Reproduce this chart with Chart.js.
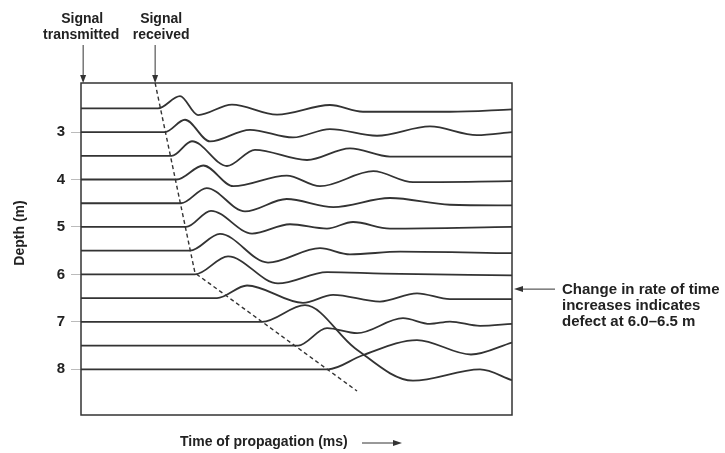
<!DOCTYPE html>
<html><head><meta charset="utf-8">
<script src="https://cdn.jsdelivr.net/npm/chart.js@4.4.1/dist/chart.umd.min.js"></script>
<style>html,body{margin:0;padding:0;background:#fff;} #wrap{width:725px;height:453px;position:relative;}</style>
</head><body><div id="wrap"><canvas id="c"></canvas></div>
<script>
// ---- data ----
const depthTicks = [3, 4, 5, 6, 7, 8];               // labelled depths (m)
const traceDepths = [2.5, 3, 3.5, 4, 4.5, 5, 5.5, 6, 6.5, 7, 7.5, 8];
// time (arbitrary ms units, 0..10 across the box) of each traced point
const traceTimes = [
  [0, 1.787, 2.297, 2.715, 3.503, 4.548, 5.777, 6.543, 8.561, 10],
  [0, 1.949, 2.413, 2.993, 3.921, 4.919, 5.777, 6.868, 8.097, 9.188, 10],
  [0, 2.104, 2.575, 3.387, 4.037, 5.244, 6.241, 7.169, 10],
  [0, 2.220, 2.838, 3.534, 4.773, 5.545, 6.782, 7.703, 10],
  [0, 2.320, 2.916, 3.805, 4.773, 5.854, 7.169, 8.561, 10],
  [0, 2.436, 3.016, 3.968, 4.849, 5.707, 6.311, 7.169, 10],
  [0, 2.529, 3.225, 4.339, 5.545, 6.241, 7.408, 10],
  [0, 2.645, 3.411, 4.571, 5.708, 7.007, 10],
  [0, 3.155, 3.852, 5.151, 5.847, 6.937, 7.796, 8.561, 10],
  [0, 4.200, 5.197, 6.357, 7.703, 9.258, 10],
  [0, 5.035, 5.708, 6.404, 7.471, 8.097, 8.561, 9.258, 10],
  [0, 5.731, 6.520, 7.796, 9.049, 10]
];
// signal amplitude (upward displacement, in depth units) at those times
const traceAmps = [
  [0, 0, 0.259, -0.141, 0.080, -0.131, 0.070, -0.072, -0.072, -0.021],
  [0, 0, 0.259, -0.198, 0.048, -0.114, 0.063, -0.078, 0.118, -0.063, 0],
  [0, 0, 0.306, -0.215, 0.126, -0.089, 0.158, -0.017, -0.017],
  [0, 0, 0.295, -0.141, 0.084, -0.141, 0.175, -0.057, -0.036],
  [0, 0, 0.320, -0.173, 0.089, -0.080, 0.110, -0.032, -0.046],
  [0, 0, 0.341, -0.139, 0.057, -0.034, 0.105, -0.034, 0],
  [0, 0, 0.354, -0.251, 0.053, -0.078, -0.019, -0.053],
  [0, 0, 0.379, -0.190, 0.048, 0.015, -0.021],
  [0, 0, 0.266, -0.099, 0.070, -0.072, 0.101, -0.021, -0.021],
  [0, 0, 0.352, -0.554, -1.239, -1.003, -1.229],
  [0, 0, 0.367, 0.261, 0.577, 0.457, 0.506, 0.415, 0.457],
  [0, 0, 0.291, 0.617, 0.312, 0.565]
];
// first-arrival (signal received) line
const arrivalTimes = [1.72, 2.645, 6.404];
const arrivalDepths = [1.966, 5.97, 8.457];
// arrows at top: signal transmitted / received times
const signalTimes = [0.05, 1.72];
const defectDepth = 6.31;

const INK = '#333';
const TXT = '#222';
const FONT = '"Liberation Sans", Arial, Helvetica, sans-serif';

const datasets = traceDepths.map((d, k) => ({
  data: traceTimes[k].map((t, i) => ({ x: t, y: d - traceAmps[k][i] })),
  borderColor: INK, borderWidth: 1.8, pointRadius: 0,
  cubicInterpolationMode: 'monotone', fill: false
}));
datasets.push({
  data: arrivalTimes.map((t, i) => ({ x: t, y: arrivalDepths[i] })),
  borderColor: INK, borderWidth: 1.4, borderDash: [4, 3], pointRadius: 0, tension: 0, fill: false
});

function arrowHead(ctx, x, y, dir) {
  ctx.beginPath();
  if (dir === 'down') { ctx.moveTo(x, y); ctx.lineTo(x - 3, y - 8); ctx.lineTo(x + 3, y - 8); }
  if (dir === 'left') { ctx.moveTo(x, y); ctx.lineTo(x + 9, y - 3); ctx.lineTo(x + 9, y + 3); }
  if (dir === 'right') { ctx.moveTo(x, y); ctx.lineTo(x - 9, y - 3); ctx.lineTo(x - 9, y + 3); }
  ctx.closePath(); ctx.fill();
}

const decor = {
  id: 'decor',
  afterDraw(chart) {
    const { ctx, chartArea: a, scales } = chart;
    ctx.save();
    ctx.strokeStyle = INK; ctx.fillStyle = INK; ctx.lineWidth = 1.5;
    ctx.strokeRect(a.left, a.top, a.right - a.left, a.bottom - a.top);
    // top arrows
    signalTimes.forEach(t => {
      const x = scales.x.getPixelForValue(t);
      ctx.lineWidth = 1;
      ctx.beginPath(); ctx.moveTo(x, 45); ctx.lineTo(x, a.top - 2); ctx.stroke();
      arrowHead(ctx, x, a.top, 'down');
    });
    // defect arrow
    const yd = scales.y.getPixelForValue(defectDepth);
    ctx.beginPath(); ctx.moveTo(a.right + 43, yd); ctx.lineTo(a.right + 6, yd); ctx.stroke();
    arrowHead(ctx, a.right + 2, yd, 'left');
    // bottom arrow
    ctx.beginPath(); ctx.moveTo(362, 443); ctx.lineTo(396, 443); ctx.stroke();
    arrowHead(ctx, 402, 443, 'right');
    // texts
    ctx.fillStyle = TXT;
    ctx.font = 'bold 14px ' + FONT;
    ctx.textAlign = 'center'; ctx.textBaseline = 'alphabetic';
    const x0 = scales.x.getPixelForValue(signalTimes[0]);
    const x1 = scales.x.getPixelForValue(signalTimes[1]);
    ctx.fillText('Signal', x0 - 1, 23);
    ctx.fillText('transmitted', x0 - 2, 39);
    ctx.fillText('Signal', x1 + 6, 23);
    ctx.fillText('received', x1 + 6, 39);
    ctx.textAlign = 'left';
    ctx.fillText('Time of propagation (ms)', 180, 446);
    ctx.font = 'bold 15px ' + FONT;
    ctx.fillText('Change in rate of time', 562, 294);
    ctx.fillText('increases indicates', 562, 310);
    ctx.fillText('defect at 6.0\u20136.5 m', 562, 326);
    ctx.save();
    ctx.translate(20, 233); ctx.rotate(-Math.PI / 2);
    ctx.textAlign = 'center'; ctx.textBaseline = 'middle';
    ctx.font = 'bold 14px ' + FONT;
    ctx.fillText('Depth (m)', 0, 0);
    ctx.restore();
    ctx.restore();
  }
};

new Chart(document.getElementById('c'), {
  type: 'line',
  data: { datasets },
  options: {
    responsive: true, maintainAspectRatio: false, animation: false,
    layout: { padding: { top: 83, right: 213, bottom: 38, left: 0 } },
    plugins: { legend: { display: false }, tooltip: { enabled: false } },
    scales: {
      x: { type: 'linear', min: 0, max: 10, display: false },
      y: {
        type: 'linear', reverse: true, min: 1.966, max: 8.963,
        afterBuildTicks: s => { s.ticks = depthTicks.map(v => ({ value: v })); },
        afterFit: s => { s.width = 81; },
        border: { display: false },
        grid: { drawOnChartArea: false, tickLength: 10, color: '#bbb', lineWidth: 1 },
        ticks: { color: TXT, padding: 6, font: { family: FONT, size: 15, weight: 'bold' } }
      }
    }
  },
  plugins: [decor]
});
</script></body></html>
